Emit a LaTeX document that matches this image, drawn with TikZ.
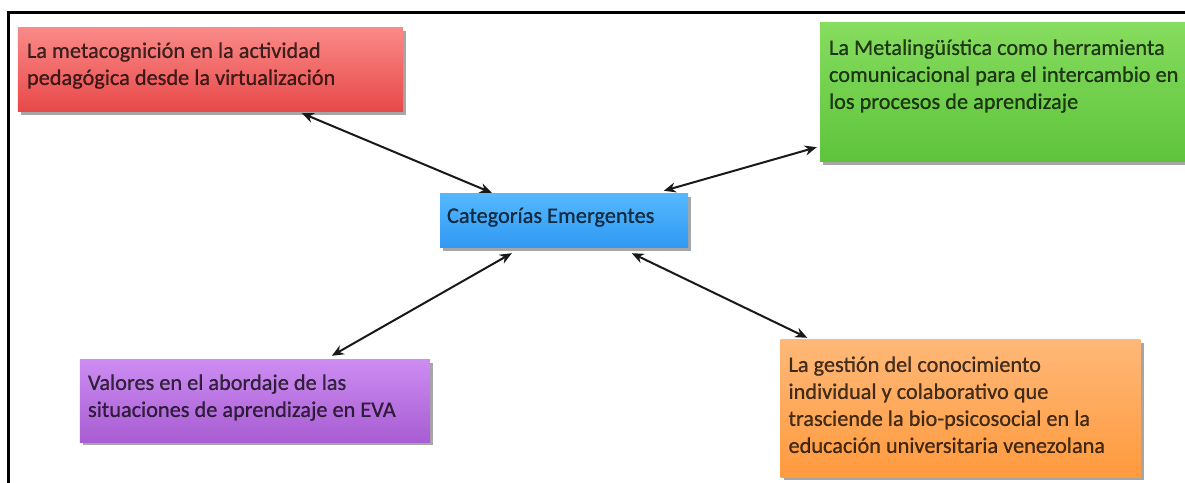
\documentclass[tikz,border=0pt]{standalone}
\usepackage{fontspec}
\setmainfont{Carlito}
\newfontfamily\boxfont{Carlito}[FakeBold=0.6]
\usetikzlibrary{arrows.meta,calc,shadows}
\definecolor{redT}{HTML}{F98A88}\definecolor{redB}{HTML}{E84848}
\definecolor{grnT}{HTML}{86DC5E}\definecolor{grnB}{HTML}{5EC43C}
\definecolor{bluT}{HTML}{55B8FF}\definecolor{bluB}{HTML}{2F98F2}
\definecolor{purT}{HTML}{CC8CF2}\definecolor{purB}{HTML}{A85DD2}
\definecolor{orgT}{HTML}{FFB878}\definecolor{orgB}{HTML}{FF9A3E}
\tikzset{
  catbox/.style={rectangle, inner sep=0pt, draw=none,
    drop shadow={shadow xshift=3bp,shadow yshift=-3bp,fill=black,opacity=0.35}},
  cattext/.style={anchor=north west, inner sep=0pt, align=left, text=black, text opacity=0.72,
    font=\boxfont\fontsize{22.3bp}{27bp}\selectfont},
  link/.style={line width=2bp, draw=black!90, {Stealth[length=12bp,width=10bp]}-{Stealth[length=12bp,width=10bp]}}
}
\begin{document}
\begin{tikzpicture}[x=1bp,y=-1bp]
\useasboundingbox (0,0) rectangle (1185,483);
\fill[white] (0,0) rectangle (1185,483);
\draw[line width=2.5bp] (8.5,483) -- (8.5,12.5) -- (1185,12.5);

\node[catbox, top color=redT, bottom color=redB, minimum width=385bp, minimum height=84bp] (red) at (210.5,70) {};
\node[catbox, top color=grnT, bottom color=grnB, minimum width=365bp, minimum height=139bp] (green) at (1002.5,92.5) {};
\node[catbox, top color=bluT, bottom color=bluB, minimum width=248bp, minimum height=54bp] (blue) at (564,221) {};
\node[catbox, top color=purT, bottom color=purB, minimum width=350bp, minimum height=82bp] (purple) at (255,401) {};
\node[catbox, top color=orgT, bottom color=orgB, minimum width=360bp, minimum height=137bp] (orange) at (960.5,408.5) {};

\node[cattext] (tred) at ($(red.north west)+(9,11)$) {\strut La metacognición en la actividad\\pedagógica desde la virtualización};
\node[cattext] (tgreen) at ($(green.north west)+(9,13)$) {\strut La Metalingüística como herramienta\\comunicacional para el intercambio en\\los procesos de aprendizaje};
\node[cattext] (tblue) at ($(blue.north west)+(7,10)$) {\strut Categorías Emergentes};
\node[cattext] (tpurple) at ($(purple.north west)+(8,11)$) {\strut Valores en el abordaje de las\\situaciones de aprendizaje en EVA};
\node[cattext] (torange) at ($(orange.north west)+(8,13)$) {\strut La gestión del conocimiento\\individual y colaborativo que\\trasciende la bio-psicosocial en la\\educación universitaria venezolana};

\draw[link] ($(red.south west)+(284,1)$) -- ($(blue.north west)+(52,-1)$);
\draw[link] ($(blue.north west)+(224,-3)$) -- ($(green.south west)+(-3,-15)$);
\draw[link] ($(blue.south west)+(72,5)$) -- ($(purple.north west)+(252,-4)$);
\draw[link] ($(blue.south west)+(192,5)$) -- ($(orange.north west)+(27,-2)$);
\end{tikzpicture}
\end{document}
